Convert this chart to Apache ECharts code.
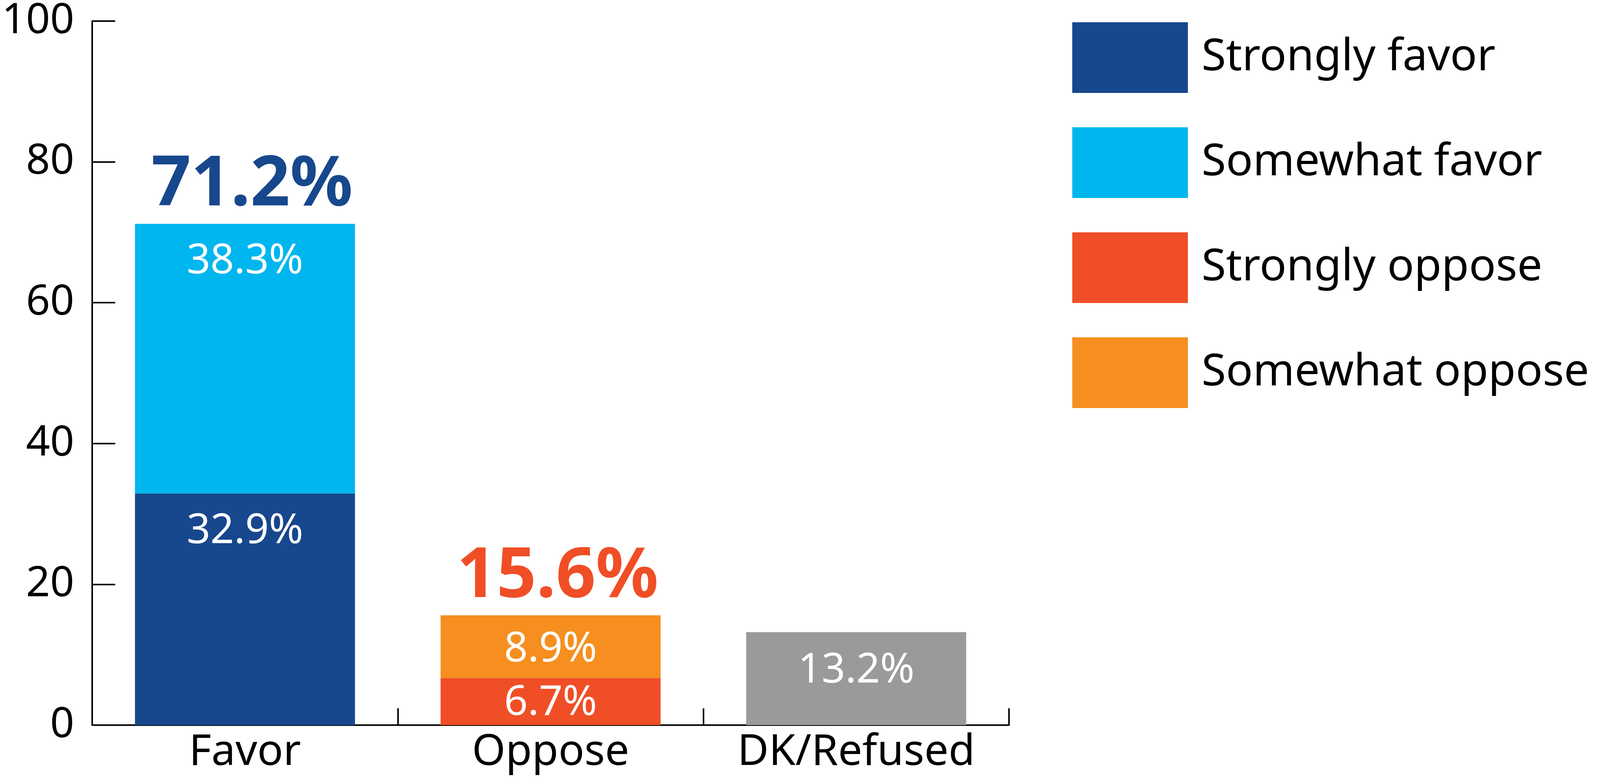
<!DOCTYPE html>
<html>
<head>
<meta charset="utf-8">
<script src="https://cdn.jsdelivr.net/npm/echarts@6/dist/echarts.min.js"></script>
<style>html,body{margin:0;padding:0;background:#fff;}#c{width:4107px;height:1995px;}</style>
</head>
<body>
<div id="c"></div>
<script>
const categories = ['Favor', 'Oppose', 'DK/Refused'];
const stronglyFavor = [32.9, '-', '-'];
const somewhatFavor = [38.3, '-', '-'];
const stronglyOppose = ['-', 6.7, '-'];
const somewhatOppose = ['-', 8.9, '-'];
const dkRefused = ['-', '-', 13.2];
const totals = [71.2, 15.6, '-'];
const totalColors = ['#17478D', '#F04E26', '#000'];
const yTicks = { min: 0, max: 100, interval: 20 };

const FONT = '"Noto Sans", sans-serif';
const chart = echarts.init(document.getElementById('c'));

function inner(name, data, color, pos, dist, off) {
  return {
    name: name, type: 'bar', stack: 'a', data: data, barWidth: '72%',
    itemStyle: { color: color },
    label: {
      show: true, position: pos, distance: dist, offset: off || [0, 0],
      color: '#fff', fontFamily: FONT, fontSize: 106,
      formatter: p => p.value + '%'
    },
    emphasis: { disabled: true }
  };
}

chart.setOption({
  animation: false,
  textStyle: { fontFamily: FONT },
  grid: { left: 236, right: 1524, top: 52, bottom: 138, containLabel: false },
  legend: {
    data: ['Strongly favor', 'Somewhat favor', 'Strongly oppose', 'Somewhat oppose'],
    orient: 'vertical', left: 2740, top: 52,
    itemWidth: 296, itemHeight: 181, itemGap: 88,
    icon: 'rect',
    selectedMode: false,
    textStyle: { fontFamily: FONT, fontSize: 114, color: '#000', padding: [0, 0, 0, 30] }
  },
  xAxis: {
    type: 'category', data: categories,
    axisLine: { show: true, lineStyle: { color: '#000', width: 4 } },
    axisTick: { show: true, inside: true, length: 43, interval: 0, alignWithLabel: false, lineStyle: { color: '#000', width: 4 } },
    axisLabel: { color: '#000', fontFamily: FONT, fontSize: 110, margin: 16, interval: 0, hideOverlap: false }
  },
  yAxis: {
    type: 'value', min: yTicks.min, max: yTicks.max, interval: yTicks.interval,
    axisLine: { show: true, lineStyle: { color: '#000', width: 4 } },
    axisTick: { show: true, inside: true, length: 59, lineStyle: { color: '#000', width: 4 } },
    axisLabel: { color: '#000', fontFamily: FONT, fontSize: 108, margin: 46 },
    splitLine: { show: false }
  },
  series: [
    inner('Strongly favor', stronglyFavor, '#17478D', 'insideTop', 44),
    inner('Somewhat favor', somewhatFavor, '#00B6EE', 'insideTop', 44),
    inner('Strongly oppose', stronglyOppose, '#F04E26', 'inside', 0, [0, 4]),
    inner('Somewhat oppose', somewhatOppose, '#F68F1F', 'inside', 0, [0, 8]),
    inner('DK/Refused', dkRefused, '#9A9A9B', 'inside', 0, [0, -20]),
    {
      name: 'Total', type: 'scatter', symbolSize: 1,
      data: totals.map((v, i) => ({ value: v, label: { color: totalColors[i] } })),
      itemStyle: { color: 'rgba(255,255,255,0)', opacity: 1 },
      label: {
        show: true, position: 'top', distance: 8, opacity: 1,
        fontFamily: FONT, fontSize: 178, fontWeight: 'bold',
        offset: [18, 0],
        formatter: p => p.value + '%'
      },
      emphasis: { disabled: true },
      z: 5
    }
  ]
});
</script>
</body>
</html>
